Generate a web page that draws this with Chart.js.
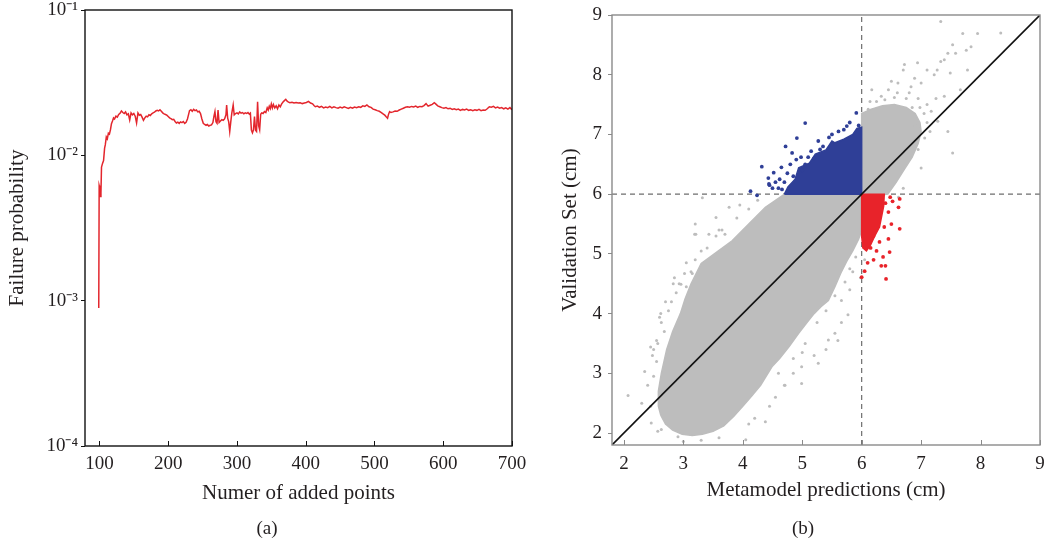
<!DOCTYPE html>
<html>
<head>
<meta charset="utf-8">
<script src="https://cdn.jsdelivr.net/npm/chart.js@4.4.1/dist/chart.umd.min.js"></script>
<style>
  body { margin: 0; background: #fff; width: 1044px; height: 547px; overflow: hidden; position: relative;
         font-family: 'Liberation Serif', serif; color: #231f20; }
  .panel { position: absolute; top: 0; height: 547px; }
  #wrapA { left: 0; width: 530px; }
  #wrapB { left: 530px; width: 514px; }
  .tag { position: absolute; top: 517px; width: 40px; text-align: center; font-size: 19px; }
</style>
</head>
<body>
<div class="panel" id="wrapA"><canvas id="chartA" width="530" height="547"></canvas></div>
<div class="panel" id="wrapB"><canvas id="chartB" width="514" height="547"></canvas></div>
<div class="tag" style="left:247px">(a)</div>
<div class="tag" style="left:783px">(b)</div>
<script>
// ---------- (a) failure probability vs added points ----------
const addedPoints = [99, 99.6, 100.4, 101.2, 102.2, 103, 104.5, 106, 107.5, 108.5, 110, 111.5, 113, 114.5, 116, 117.5, 119, 120.5,
  122, 124, 126, 128, 130, 132, 134, 136, 138, 140, 142, 144, 146, 148, 150, 152, 154, 156, 158, 160, 162, 164, 166, 168, 170,
  172, 174, 176, 178, 180, 182, 184, 186, 188, 190, 192, 194, 196, 198, 200, 202, 204, 206, 208, 210, 212, 214, 216, 218, 220,
  222, 224, 226, 228, 229.5, 231, 233, 235, 237, 239, 241, 243, 245, 247, 249, 251, 253, 255, 257, 259, 261, 263, 265, 266.5,
  268, 269.5, 271, 272.5, 274, 276, 278, 280, 282, 284, 285, 286.5, 288, 289.5, 291, 292.5, 294.5, 296, 298, 300, 302, 304, 306,
  308, 310, 312, 314, 316, 318, 319.5, 321, 322.5, 324, 325.5, 327, 328.5, 330, 331.5, 333, 334.5, 336, 338, 340, 342, 344,
  345.5, 347, 348.5, 350, 351.5, 353, 355, 357, 359, 361, 363, 365, 367, 369, 371, 373, 375, 377, 380, 383, 386, 389, 392, 395,
  398, 401, 404, 407, 410, 412, 414, 417, 420, 423, 426, 429, 432, 435, 438, 441, 444, 447, 450, 453, 456, 459, 462, 465, 468,
  471, 474, 477, 480, 483, 486, 489, 492, 495, 498, 501, 504, 507, 510, 513, 515, 517, 519, 520.5, 522, 524, 527, 530, 533, 536,
  539, 542, 545, 548, 551, 554, 557, 560, 563, 566, 569, 572, 575, 578, 581, 584, 587, 589, 592, 595, 598, 601, 604, 607, 610,
  613, 616, 619, 622, 625, 628, 631, 634, 637, 640, 643, 646, 649, 652, 655, 658, 661, 664, 667, 670, 673, 676, 679, 682, 685,
  688, 691, 694, 697, 700];
const failureProb = [0.00089, 0.0062, 0.0060, 0.0052, 0.0055, 0.0083, 0.0088, 0.0092, 0.0112, 0.0118, 0.0134, 0.0130, 0.0142,
  0.0140, 0.0150, 0.0165, 0.0172, 0.0181,
  0.0178, 0.0186, 0.0183, 0.0191, 0.0195, 0.0202, 0.0197, 0.0194, 0.0199, 0.0190, 0.0193, 0.0175, 0.0196, 0.0190, 0.0194,
  0.0186, 0.0167, 0.0196, 0.0189, 0.0191, 0.0183, 0.0174, 0.0181, 0.0186, 0.0184,
  0.0190, 0.0188, 0.0193, 0.0196, 0.0198, 0.0202, 0.0204, 0.0202, 0.0206, 0.0201, 0.0196, 0.0193, 0.0191, 0.0189, 0.0185,
  0.0181, 0.0179, 0.0176, 0.0177, 0.0171, 0.0167, 0.0169, 0.0166, 0.0170, 0.0168,
  0.0171, 0.0166, 0.0169, 0.0178, 0.0190, 0.0203, 0.0206, 0.0201, 0.0207, 0.0203, 0.0205, 0.0199, 0.0201, 0.0194, 0.0178,
  0.0166, 0.0163, 0.0161, 0.0163, 0.0159, 0.0161, 0.0162, 0.0168, 0.0185,
  0.0200, 0.0170, 0.0166, 0.0205, 0.0168, 0.0172, 0.0176, 0.0174, 0.0178, 0.0190, 0.0222, 0.0180, 0.0170, 0.0146, 0.0170,
  0.0195, 0.0222, 0.0190, 0.0194, 0.0196, 0.0193, 0.0199, 0.0195,
  0.0197, 0.0193, 0.0196, 0.0194, 0.0197, 0.0192, 0.0195, 0.0149, 0.0143, 0.0150, 0.0185, 0.0149, 0.0146, 0.0234, 0.0160,
  0.0150, 0.0192, 0.0196, 0.0194, 0.0200, 0.0197, 0.0212,
  0.0205, 0.0218, 0.0210, 0.0226, 0.0212, 0.0224, 0.0212, 0.0219, 0.0209, 0.0222, 0.0216, 0.0226, 0.0233, 0.0238, 0.0243,
  0.0236, 0.0232, 0.0230, 0.0232, 0.0229, 0.0231, 0.0229, 0.0230, 0.0227,
  0.0229, 0.0231, 0.0235, 0.0229, 0.0226, 0.0220, 0.0216, 0.0218, 0.0214, 0.0217, 0.0212, 0.0215, 0.0213, 0.0217, 0.0212,
  0.0216, 0.0213, 0.0211, 0.0215, 0.0212, 0.0216, 0.0213, 0.0210, 0.0214, 0.0211,
  0.0215, 0.0213, 0.0216, 0.0214, 0.0219, 0.0217, 0.0222, 0.0216, 0.0214, 0.0208, 0.0206, 0.0203, 0.0201, 0.0197, 0.0192,
  0.0189, 0.0184, 0.0180, 0.0192, 0.0200, 0.0197, 0.0199, 0.0202, 0.0201, 0.0205,
  0.0208, 0.0211, 0.0214, 0.0216, 0.0214, 0.0217, 0.0215, 0.0218, 0.0214, 0.0217, 0.0216, 0.0220, 0.0227, 0.0218, 0.0221,
  0.0224, 0.0230, 0.0226, 0.0219, 0.0216, 0.0213, 0.0211, 0.0213, 0.0209, 0.0211,
  0.0207, 0.0209, 0.0206, 0.0208, 0.0204, 0.0207, 0.0205, 0.0208, 0.0204, 0.0206, 0.0203, 0.0206, 0.0204, 0.0207, 0.0203,
  0.0205, 0.0204, 0.0209, 0.0216, 0.0214, 0.0217, 0.0212, 0.0215, 0.0211, 0.0213,
  0.0209, 0.0212, 0.0208, 0.0213, 0.0206];
const aXTicks = [100, 200, 300, 400, 500, 600, 700];
const aYTicks = [1e-4, 1e-3, 1e-2, 1e-1];

// ---------- (b) validation set vs metamodel predictions ----------
const bTicks = [2, 3, 4, 5, 6, 7, 8, 9];
const bRange = [1.8, 9];
const threshold = 6;
// outline of the dense grey cloud
const grayCloud = [[2.62,2.30],[2.70,2.15],[2.82,2.05],[2.98,1.98],[3.15,1.96],[3.32,1.98],[3.50,2.03],[3.68,2.12],
  [3.85,2.28],[4.00,2.45],[4.15,2.62],[4.30,2.80],[4.49,3.11],[4.62,3.25],[4.78,3.45],[4.94,3.67],[5.08,3.85],[5.20,4.00],
  [5.32,4.12],[5.44,4.22],[5.55,4.45],[5.65,4.68],[5.75,4.88],[5.85,5.05],[5.95,5.25],[6.02,5.45],[6.08,5.90],[6.30,5.98],
  [6.44,6.00],[6.58,6.20],[6.72,6.42],[6.85,6.62],[6.95,6.85],[7.00,7.05],[6.98,7.20],[6.90,7.35],[6.75,7.45],[6.55,7.50],
  [6.35,7.48],[6.15,7.42],[6.00,7.35],[6.00,6.00],[4.70,6.00],[4.38,5.78],[4.10,5.50],[3.82,5.22],[3.55,5.02],[3.30,4.84],
  [3.13,4.50],[3.03,4.25],[2.95,4.00],[2.82,3.70],[2.72,3.40],[2.63,3.00],[2.58,2.70],[2.58,2.45],[2.62,2.30]];
const grayDots = [
  // lower left edge
  [2.07,2.63],[2.30,2.50],[2.35,3.03],[2.45,3.44],[2.50,3.40],[2.60,3.94],[2.63,3.85],[2.83,4.50],[2.93,4.50],[3.02,4.67],
  [3.13,4.70],[3.19,5.33],[3.43,5.33],[3.55,5.30],[3.70,5.33],[2.80,4.20],[2.68,3.70],[2.55,3.20],[2.40,2.80],[2.46,2.17],
  [2.63,2.06],[2.91,1.94],[2.50,2.95],[2.55,3.55],[2.75,4.05],[2.88,4.35],[3.05,4.45],[3.20,4.90],[3.40,5.10],[3.65,5.40],
  [3.90,5.60],[4.10,5.75],[4.25,5.90],[3.32,5.94],[3.55,5.61],[3.77,5.78],[3.95,5.82],[3.20,5.50],[2.62,4.00],[2.57,3.50],
  [2.96,4.49],[3.15,4.67],[2.45,2.45],[2.48,3.30],[2.70,4.20],[2.85,4.60],[3.05,4.85],[3.30,5.05],[3.21,5.33],[3.60,5.40],
  // lower right edge
  [5.77,3.98],[5.55,3.67],[5.27,3.17],[4.99,3.11],[4.99,2.83],[4.38,2.19],[4.05,1.89],[5.66,3.85],[5.60,3.55],[5.40,3.40],
  [5.20,3.30],[5.00,3.35],[4.85,3.00],[4.70,2.80],[4.55,2.60],[4.45,2.45],[4.20,2.25],[4.10,2.15],[5.72,4.53],[5.66,4.22],
  [5.44,3.56],[5.80,4.40],[5.85,4.70],[5.90,4.95],[6.05,4.90],[5.98,4.60],[3.00,1.86],[3.60,1.92],[3.30,1.88],[2.57,2.03],
  [4.71,2.80],[4.60,3.00],[4.85,3.25],[5.05,3.50],[5.25,3.85],[5.40,4.05],[5.55,4.30],[5.80,4.75],
  // upper right
  [7.33,8.89],[7.70,8.69],[7.95,8.69],[8.34,8.70],[7.53,8.50],[7.84,8.47],[7.76,8.41],[7.45,8.36],[7.58,8.36],[7.33,8.22],
  [7.39,8.25],[6.72,8.17],[6.94,8.20],[7.10,8.08],[7.27,8.08],[7.22,8.00],[7.49,8.03],[6.70,8.08],[6.50,7.89],[6.61,7.86],
  [6.89,7.94],[7.00,7.86],[6.83,7.80],[6.33,7.64],[6.17,7.75],[6.39,7.58],[6.14,7.55],[6.11,7.42],[7.78,8.08],[7.39,7.64],
  [7.66,7.75],[7.53,6.69],[7.45,7.05],[7.28,7.22],[7.17,7.39],[7.06,6.94],[7.00,6.44],[6.80,7.70],[6.95,7.60],[7.10,7.50],
  [6.60,7.70],[6.45,7.75],[7.25,7.60],[7.05,7.35],[7.15,7.05],[6.90,7.15],[6.95,6.75],[6.70,6.10],[6.62,5.95],[6.75,7.60],
  [6.55,7.62],[6.25,7.55],[6.85,7.45],[6.98,7.45],[7.10,7.20]];
const blueCloud = [[4.70,6.00],[6.00,6.00],[6.00,7.12],[5.92,7.10],[5.85,7.00],[5.70,6.92],[5.55,6.86],[5.50,6.89],
  [5.40,6.74],[5.22,6.67],[5.12,6.52],[4.94,6.44],[4.88,6.25],[4.76,6.12],[4.70,6.00]];
const blueDots = [[5.91,7.36],[5.05,7.19],[4.72,6.80],[4.91,6.94],[4.83,6.69],[4.32,6.46],[4.13,6.05],[4.24,5.98],[4.52,6.36],
  [4.43,6.27],[5.75,7.14],[5.61,7.05],[5.27,6.89],[5.35,6.80],[5.15,6.72],[4.98,6.62],[5.05,6.50],[4.65,6.45],[4.75,6.35],
  [4.55,6.20],[4.45,6.15],[4.60,6.10],[5.20,6.60],[5.45,6.95],[5.50,7.00],[5.80,7.20],[5.70,7.08],[5.95,7.15],[5.00,6.40],
  [4.85,6.30],[4.44,6.17],[4.50,6.10],[4.62,6.25],[4.70,6.20],[4.80,6.50],[4.90,6.58],[5.10,6.62],[5.30,6.75],[4.66,6.08]];
const redCloud = [[6.00,6.00],[6.38,6.00],[6.37,5.80],[6.33,5.60],[6.30,5.45],[6.22,5.30],[6.15,5.15],[6.08,5.05],
  [6.02,5.10],[6.00,5.30],[6.00,6.00]];
const redDots = [[6.64,5.92],[6.62,5.78],[6.64,5.42],[6.47,5.03],[6.36,4.95],[6.33,4.80],[6.41,4.58],[6.00,4.61],[6.05,4.71],
  [6.40,4.80],[6.20,4.90],[6.25,5.05],[6.10,4.85],[6.15,5.10],[6.45,5.25],[6.50,5.50],[6.45,5.70],[6.40,5.85],[6.30,5.20],
  [6.20,5.30],[6.38,5.45],[6.48,5.95],[6.52,5.88]];

const FONT = "'Liberation Serif', 'Times New Roman', serif";
const INK = '#231f20';
const toPts = arr => arr.map(([x, y]) => ({x, y}));
const sup = {'-': '\u207B', '0': '\u2070', '1': '\u00B9', '2': '\u00B2', '3': '\u00B3', '4': '\u2074'};

// frame round the plot area plus inward ticks on the x axis
const framePlugin = {
  id: 'frame',
  afterDatasetsDraw(chart, args, opts) {
    const {ctx, chartArea: a} = chart;
    const xs = chart.scales.x;
    ctx.save();
    ctx.strokeStyle = opts.color;
    ctx.lineWidth = opts.width;
    ctx.strokeRect(a.left, a.top, a.right - a.left, a.bottom - a.top);
    ctx.lineWidth = 1;
    xs.ticks.forEach(t => {
      const px = Math.round(xs.getPixelForValue(t.value)) + 0.5;
      ctx.beginPath();
      ctx.moveTo(px, a.bottom);
      ctx.lineTo(px, a.bottom - 5);
      ctx.stroke();
    });
    ctx.restore();
  }
};

function fixBox(w, h) {
  return s => {
    if (w !== null) s.width = w;
    if (h !== null) s.height = h;
    s.paddingLeft = 0; s.paddingRight = 0; s.paddingTop = 0; s.paddingBottom = 0;
  };
}

Chart.defaults.font.family = FONT;
Chart.defaults.color = INK;

// ----- chart (a) -----
new Chart(document.getElementById('chartA'), {
  type: 'line',
  data: {
    datasets: [{
      data: addedPoints.map((x, i) => ({x, y: failureProb[i]})),
      borderColor: '#e3262d',
      borderWidth: 1.5,
      pointRadius: 0,
      tension: 0
    }]
  },
  options: {
    responsive: false,
    animation: false,
    devicePixelRatio: 1,
    layout: {padding: {left: 5, right: 18, top: 10, bottom: 41}},
    plugins: {legend: {display: false}, tooltip: {enabled: false}, frame: {color: '#111', width: 1.4}},
    scales: {
      x: {
        type: 'linear', min: 79, max: 700,
        afterBuildTicks: s => { s.ticks = aXTicks.map(v => ({value: v})); },
        afterFit: fixBox(null, 60),
        grid: {display: false, drawTicks: false},
        border: {display: false},
        ticks: {padding: 7, font: {size: 19}, color: INK},
        title: {display: true, text: 'Numer of added points', font: {size: 21}, padding: {top: 0, bottom: 0}, color: INK}
      },
      y: {
        type: 'logarithmic', min: 1e-4, max: 1e-1,
        afterBuildTicks: s => { s.ticks = aYTicks.map(v => ({value: v})); },
        afterFit: fixBox(80, null),
        grid: {drawOnChartArea: false, drawTicks: true, tickLength: 4, color: '#111'},
        border: {display: false},
        ticks: {
          padding: 3, font: {size: 19}, color: INK,
          callback: v => '10' + String(Math.round(Math.log10(v))).split('').map(c => sup[c]).join('')
        },
        title: {display: true, text: 'Failure probability', font: {size: 21}, padding: {top: 0, bottom: 0}, color: INK}
      }
    }
  },
  plugins: [framePlugin]
});

// ----- chart (b) -----
const polyStyle = (pts, color, order) => ({
  type: 'line', data: toPts(pts), order,
  borderColor: color, backgroundColor: color, borderWidth: 1.5,
  fill: 'shape', pointRadius: 0, tension: 0
});
const dotStyle = (pts, color, r, order) => ({
  type: 'scatter', data: toPts(pts), order,
  backgroundColor: color, borderWidth: 0, pointRadius: r
});
const lineStyle = (pts, color, width, dash, order) => ({
  type: 'line', data: toPts(pts), order,
  borderColor: color, borderWidth: width, borderDash: dash, pointRadius: 0, fill: false, tension: 0
});

new Chart(document.getElementById('chartB'), {
  type: 'scatter',
  data: {
    datasets: [
      lineStyle([[bRange[0], bRange[0]], [bRange[1], bRange[1]]], '#111', 1.6, [], 1),
      dotStyle(redDots, '#e8232a', 1.9, 2),
      polyStyle(redCloud, '#e8232a', 3),
      dotStyle(blueDots, '#2f3f97', 1.9, 4),
      polyStyle(blueCloud, '#2f3f97', 5),
      dotStyle(grayDots, '#bdbdbd', 1.5, 6),
      polyStyle(grayCloud, '#bdbdbd', 7),
      lineStyle([[bRange[0], threshold], [bRange[1], threshold]], '#6d6d6d', 1.2, [5, 4], 8),
      lineStyle([[threshold, bRange[0]], [threshold, bRange[1]]], '#6d6d6d', 1.2, [5, 4], 9)
    ]
  },
  options: {
    responsive: false,
    animation: false,
    devicePixelRatio: 1,
    layout: {padding: {left: 28, right: 2, top: 15, bottom: 44}},
    plugins: {legend: {display: false}, tooltip: {enabled: false}, frame: {color: '#8a8a8a', width: 1.4}},
    scales: {
      x: {
        type: 'linear', min: bRange[0], max: bRange[1],
        afterBuildTicks: s => { s.ticks = bTicks.map(v => ({value: v})); },
        afterFit: fixBox(null, 58),
        grid: {display: false, drawTicks: false},
        border: {display: false},
        ticks: {padding: 8, font: {size: 19}, color: INK},
        title: {display: true, text: 'Metamodel predictions (cm)', font: {size: 21}, padding: {top: 0, bottom: 0}, color: INK}
      },
      y: {
        type: 'linear', min: bRange[0], max: bRange[1],
        afterBuildTicks: s => { s.ticks = bTicks.map(v => ({value: v})); },
        afterFit: fixBox(54, null),
        grid: {drawOnChartArea: false, drawTicks: true, tickLength: 4, color: '#8a8a8a'},
        border: {display: false},
        ticks: {padding: 6, font: {size: 19}, color: INK},
        title: {display: true, text: 'Validation Set (cm)', font: {size: 21}, padding: {top: 0, bottom: 0}, color: INK}
      }
    }
  },
  plugins: [framePlugin]
});
</script>
</body>
</html>
